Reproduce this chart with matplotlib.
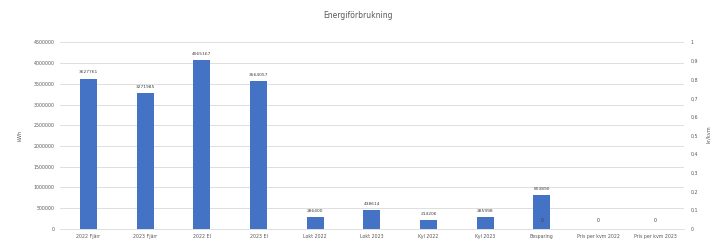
import numpy as np
import matplotlib
matplotlib.use("Agg")
import matplotlib.pyplot as plt

categories = [
    "2022 Fjärr", "2023 Fjärr", "2022 El", "2023 El", "Lokt 2022", "Lokt 2023",
    "Kyl 2022", "Kyl 2023", "Besparing", "Pris per kvm 2022", "Pris per kvm 2023",
]
energy = [3627761, 3271985, 4065167, 3564057, 286400, 438614, 214206, 285998, 803890, 0, 0]
price_idx = [8, 9, 10]
price = [0, 0, 0]

left_ticks = np.arange(0, 4500001, 500000)
right_ticks = np.round(np.arange(0, 1.01, 0.1), 1)

text_col = "#595959"
bar_col = "#4472C4"
grid_col = "#D9D9D9"

fig = plt.figure(figsize=(7.15, 2.44), dpi=100)
ax = fig.add_axes([0.084, 0.063, 0.872, 0.763])
x = np.arange(len(categories))

ax.bar(x, energy, width=0.3, color=bar_col, zorder=3)
for xi, v in zip(x, energy):
    if v > 0:
        ax.annotate(str(v), (xi, v), xytext=(0, 3), textcoords="offset points",
                    ha="center", va="bottom", fontsize=3.2, color="#404040")

ax.set_xlim(-0.5, len(categories) - 0.5)
ax.set_ylim(0, 4500000)
ax.set_yticks(left_ticks)
ax.set_yticklabels([str(t) for t in left_ticks])
ax.set_xticks(x)
ax.set_xticklabels(categories)
ax.tick_params(axis="both", length=0, labelsize=3.4, colors=text_col, pad=4)
ax.grid(axis="y", color=grid_col, linewidth=0.6, zorder=0)
ax.set_axisbelow(True)
for s in ax.spines.values():
    s.set_visible(False)
ax.spines["bottom"].set_visible(True)
ax.spines["bottom"].set_color(grid_col)
ax.spines["bottom"].set_linewidth(0.6)
ax.set_ylabel("kWh", fontsize=3.6, color=text_col, labelpad=8)

ax2 = ax.twinx()
ax2.set_ylim(0, 1)
ax2.set_yticks(right_ticks)
ax2.set_yticklabels(["0" if t == 0 else ("1" if t == 1 else f"{t:.1f}".replace(".", ",")) for t in right_ticks])
ax2.tick_params(axis="y", length=0, labelsize=3.4, colors=text_col, pad=5)
for s in ax2.spines.values():
    s.set_visible(False)
for xi, v in zip(price_idx, price):
    ax2.annotate(str(v), (xi, v), xytext=(0, 4), textcoords="offset points",
                 ha="center", va="bottom", fontsize=3.4, color="#404040")

fig.text(0.995, 0.45, "kr/kvm", rotation=90, ha="right", va="center",
         fontsize=3.6, color=text_col)
fig.suptitle("Energiförbrukning", x=0.5, y=0.955, fontsize=5.5, color=text_col)

fig.savefig("out.png", dpi=100, facecolor="white")
